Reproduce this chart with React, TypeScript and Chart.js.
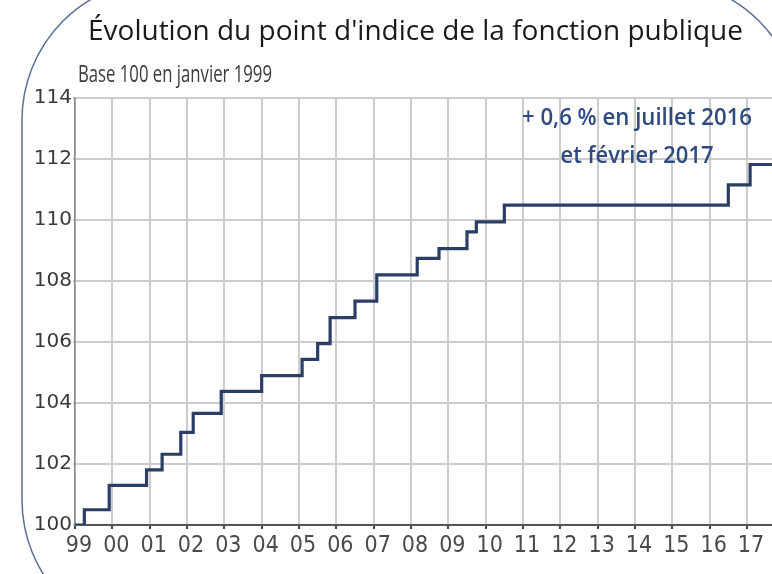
import React, { useEffect, useRef } from "react";
import { Chart, registerables } from "chart.js";

Chart.register(...registerables);

// Dates of change of the "point d'indice" (YYYY-MM) and index level (base 100 = Jan 1999)
const changeMonths = [
  "1999-01", "1999-04", "1999-12", "2000-12", "2001-05", "2001-11", "2002-03",
  "2002-12", "2004-01", "2005-02", "2005-07", "2005-11", "2006-07", "2007-02",
  "2008-03", "2008-10", "2009-07", "2009-10", "2010-07", "2016-07", "2017-02", "2017-09",
];
const indexValues = [
  100, 100.5, 101.3, 101.81, 102.32, 103.04, 103.66,
  104.38, 104.9, 105.43, 105.95, 106.8, 107.34, 108.2,
  108.74, 109.06, 109.61, 109.94, 110.49, 111.15, 111.82, 111.82,
];

const tickYears = [
  1999, 2000, 2001, 2002, 2003, 2004, 2005, 2006, 2007, 2008,
  2009, 2010, 2011, 2012, 2013, 2014, 2015, 2016, 2017,
];
const yearLabels = [
  "99", "00", "01", "02", "03", "04", "05", "06", "07", "08",
  "09", "10", "11", "12", "13", "14", "15", "16", "17",
];
const yTickValues = [100, 102, 104, 106, 108, 110, 112, 114];

const titleText = "Évolution du point d'indice de la fonction publique";
const subtitleText = "Base 100 en janvier 1999";
const noteLines = ["+ 0,6 % en juillet 2016", "et février 2017"];

const X_MIN = 1999;
const X_MAX = 2017.67;

function toDecimal(m: string): number {
  const [y, mo] = m.split("-").map(Number);
  return y + (mo - 1) / 12;
}

function fitText(
  ctx: CanvasRenderingContext2D,
  text: string,
  x: number,
  y: number,
  font: string,
  targetW: number,
  align: CanvasTextAlign,
  color: string
) {
  ctx.save();
  ctx.font = font;
  const w = ctx.measureText(text).width;
  const sx = targetW / w;
  ctx.translate(x, y);
  ctx.scale(sx, 1);
  ctx.textAlign = align;
  ctx.textBaseline = "alphabetic";
  ctx.fillStyle = color;
  ctx.fillText(text, 0, 0);
  ctx.restore();
}

const decorPlugin = {
  id: "decor",
  beforeDraw(chart: any) {
    const ctx: CanvasRenderingContext2D = chart.ctx;
    ctx.save();
    ctx.fillStyle = "#ffffff";
    ctx.fillRect(0, 0, chart.width, chart.height);
    // rounded frame of the original figure
    ctx.strokeStyle = "#5b6f93";
    ctx.lineWidth = 1.5;
    ctx.beginPath();
    (ctx as any).roundRect(22, -20, 778, 660, 140);
    ctx.stroke();
    ctx.restore();
  },
  afterDraw(chart: any) {
    const ctx: CanvasRenderingContext2D = chart.ctx;
    fitText(ctx, titleText, 88, 40, "27px 'Open Sans'", 655, "left", "#1a1a1a");
    fitText(ctx, subtitleText, 78, 82, "23px 'Open Sans'", 194, "left", "#3a3a3a");
    fitText(ctx, noteLines[0], 637, 125, "600 24px 'Open Sans'", 230, "center", "#2e4a7e");
    fitText(ctx, noteLines[1], 637, 163, "600 24px 'Open Sans'", 153, "center", "#2e4a7e");
  },
};

export default function App() {
  const canvasRef = useRef<HTMLCanvasElement | null>(null);

  useEffect(() => {
    if (!canvasRef.current) return;
    const points = changeMonths.map((m, i) => ({ x: toDecimal(m), y: indexValues[i] }));
    const chart = new Chart(canvasRef.current, {
      type: "line",
      data: {
        datasets: [
          {
            data: points,
            stepped: "before",
            borderColor: "#2c3e63",
            borderWidth: 3.2,
            pointRadius: 0,
            fill: false,
          },
        ],
      },
      options: {
        animation: false,
        responsive: false,
        maintainAspectRatio: false,
        devicePixelRatio: 1,
        layout: { padding: { top: 98, right: 0, left: 0, bottom: 0 } },
        plugins: {
          legend: { display: false },
          tooltip: { enabled: false },
          title: { display: false },
        },
        scales: {
          x: {
            type: "linear",
            min: X_MIN,
            max: X_MAX,
            afterBuildTicks: (scale: any) => {
              scale.ticks = tickYears.map((v) => ({ value: v }));
            },
            afterFit: (scale: any) => {
              scale.height = 49;
            },
            ticks: {
              autoSkip: false,
              maxRotation: 0,
              minRotation: 0,
              labelOffset: 4,
              padding: 3,
              color: "#4a4a4a",
              font: { family: "'Liberation Sans Narrow', 'DejaVu Sans Condensed', 'Liberation Sans', sans-serif", size: 23 },
              callback: (v: any) => {
                const i = tickYears.indexOf(Number(v));
                return i >= 0 ? yearLabels[i] : "";
              },
            },
            grid: {
              color: "#cccccc",
              lineWidth: 2,
              tickColor: "#444444",
              tickLength: 4,
              tickWidth: 2,
            },
            border: { color: "#555555", width: 2 },
          },
          y: {
            type: "linear",
            min: 100,
            max: 114,
            afterBuildTicks: (scale: any) => {
              scale.ticks = yTickValues.map((v) => ({ value: v }));
            },
            afterFit: (scale: any) => {
              scale.width = 75;
            },
            ticks: {
              padding: 1,
              color: "#3a3a3a",
              font: { family: "'DejaVu Sans', sans-serif", size: 20 },
            },
            grid: {
              color: "#cccccc",
              lineWidth: 2,
              tickLength: 2,
            },
            border: { color: "#888888", width: 1.5 },
          },
        },
      },
      plugins: [decorPlugin],
    });
    return () => chart.destroy();
  }, []);

  return (
    <div style={{ position: "absolute", left: 0, top: 0, width: 772, height: 574, background: "#fff" }}>
      <canvas ref={canvasRef} width={772} height={574} style={{ display: "block" }} />
    </div>
  );
}
